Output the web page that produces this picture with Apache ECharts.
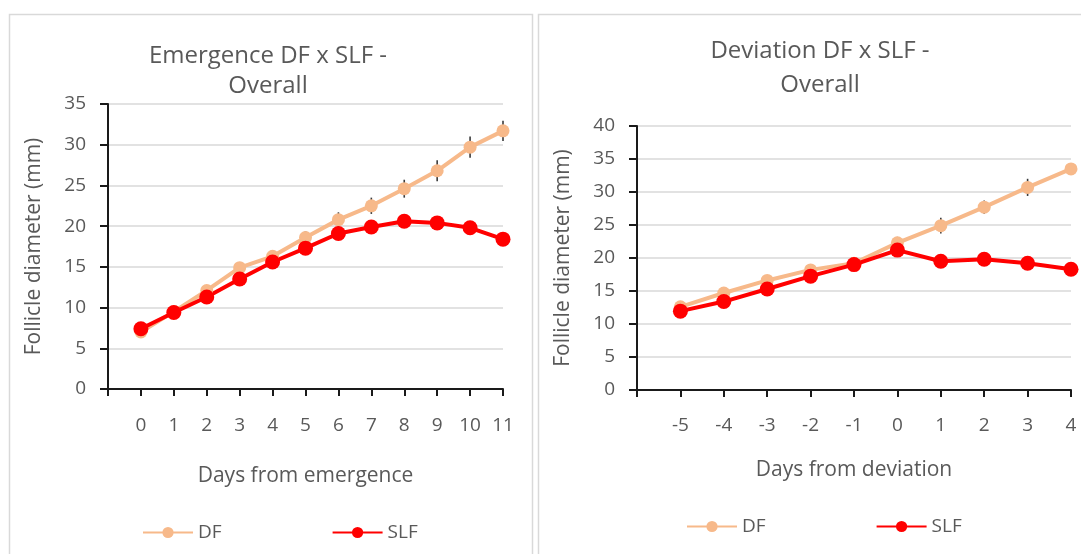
<!DOCTYPE html>
<html>
<head>
<meta charset="utf-8">
<script src="https://cdn.jsdelivr.net/npm/echarts@6/dist/echarts.min.js"></script>
<style>
html,body{margin:0;padding:0;background:#fff;}
#c{width:1081px;height:554px;}
</style>
</head>
<body>
<div id="c"></div>
<script>
// ---- data ----
const emDays = [0, 1, 2, 3, 4, 5, 6, 7, 8, 9, 10, 11];
const emDF   = [7.0, 9.5, 12.1, 14.9, 16.3, 18.6, 20.8, 22.5, 24.6, 26.8, 29.7, 31.7];
const emSLF  = [7.4, 9.4, 11.3, 13.5, 15.6, 17.3, 19.1, 19.9, 20.6, 20.4, 19.8, 18.4];
const emDFerr = [0.5, 0.6, 0.6, 0.7, 0.7, 0.8, 0.9, 1.0, 1.1, 1.3, 1.3, 1.25];

const devDays = [-5, -4, -3, -2, -1, 0, 1, 2, 3, 4];
const devDF   = [12.6, 14.7, 16.6, 18.2, 19.2, 22.3, 24.9, 27.7, 30.7, 33.5];
const devSLF  = [11.95, 13.4, 15.3, 17.25, 19.0, 21.2, 19.5, 19.8, 19.2, 18.3];
const devDFerr = [0.6, 0.6, 0.7, 0.7, 0.8, 0.9, 1.2, 1.0, 1.3, 0.9];

const titles = ['Emergence DF x SLF -\nOverall', 'Deviation DF x SLF -\nOverall'];
const xNames = ['Days from emergence', 'Days from deviation'];
const yName = 'Follicle diameter (mm)';
const seriesNames = ['DF', 'SLF'];

// ---- style ----
const FONT = 'Open Sans';
const TXT = '#595959';
const C_DF = '#F7B98A';
const C_SLF = '#FF0000';

const pairs = (xs, ys) => xs.map((x, i) => [x, ys[i]]);
const errData = (xs, ys, es) => xs.map((x, i) => [x, ys[i] - es[i], ys[i] + es[i]]);

function xAxisCfg(idx, min, max, nameGap, labelMargin) {
  return {
    type: 'value', gridIndex: idx, min: min, max: max, interval: 1,
    name: xNames[idx], nameLocation: 'middle', nameGap: nameGap,
    nameTextStyle: { color: TXT, fontFamily: FONT, fontSize: 21 },
    axisLine: { show: true, onZero: false, lineStyle: { color: '#1a1a1a', width: 2 } },
    axisTick: { show: true, length: 7, lineStyle: { color: '#1a1a1a', width: 2 } },
    axisLabel: { color: TXT, fontFamily: FONT, fontSize: 19, margin: labelMargin,
      formatter: v => (v === min ? '' : String(v)), showMinLabel: true, showMaxLabel: true },
    splitLine: { show: false }
  };
}
function yAxisCfg(idx, max) {
  return {
    type: 'value', gridIndex: idx, min: 0, max: max, interval: 5,
    name: yName, nameLocation: 'middle', nameGap: 63, nameRotate: 90,
    nameTextStyle: { color: TXT, fontFamily: FONT, fontSize: 21 },
    axisLine: { show: true, onZero: false, lineStyle: { color: '#1a1a1a', width: 2 } },
    axisTick: { show: true, length: 8, lineStyle: { color: '#1a1a1a', width: 2 } },
    axisLabel: { color: TXT, fontFamily: FONT, fontSize: 19, margin: 22 },
    splitLine: { show: true, lineStyle: { color: '#d9d9d9', width: 1.5 } }
  };
}
function lineSeries(name, idx, data, color, size) {
  return {
    type: 'line', name: name, xAxisIndex: idx, yAxisIndex: idx, data: data,
    symbol: 'circle', symbolSize: size, z: 3,
    lineStyle: { color: color, width: 4 },
    itemStyle: { color: color },
    emphasis: { disabled: true }, animation: false
  };
}
function errSeries(idx, data) {
  return {
    type: 'custom', xAxisIndex: idx, yAxisIndex: idx, data: data, z: 2, silent: true,
    animation: false,
    renderItem: (params, api) => {
      const p1 = api.coord([api.value(0), api.value(1)]);
      const p2 = api.coord([api.value(0), api.value(2)]);
      return { type: 'line', shape: { x1: p1[0], y1: p1[1], x2: p2[0], y2: p2[1] },
        style: { stroke: '#3a3a3a', lineWidth: 1.6 } };
    }
  };
}
const legendCfg = (left, top) => ({
  data: seriesNames, left: left, top: top, orient: 'horizontal',
  itemWidth: 50, itemHeight: 14, itemGap: 110, selectedMode: false,
  textStyle: { color: TXT, fontFamily: FONT, fontSize: 19 }
});

const chart = echarts.init(document.getElementById('c'), null, { renderer: 'canvas' });
chart.setOption({
  backgroundColor: '#ffffff',
  animation: false,
  graphic: [
    { type: 'rect', shape: { x: 9.5, y: 14.5, width: 523, height: 600 }, z: -10,
      style: { fill: 'none', stroke: '#d9d9d9', lineWidth: 1.5 } },
    { type: 'rect', shape: { x: 538.5, y: 14.5, width: 600, height: 600 }, z: -10,
      style: { fill: 'none', stroke: '#d9d9d9', lineWidth: 1.5 } }
  ],
  title: [
    { text: titles[0], left: 268, top: 41, textAlign: 'center', padding: 0,
      textStyle: { color: TXT, fontFamily: FONT, fontSize: 24, fontWeight: 'normal', lineHeight: 30 } },
    { text: titles[1], left: 820, top: 34, textAlign: 'center', padding: 0,
      textStyle: { color: TXT, fontFamily: FONT, fontSize: 24, fontWeight: 'normal', lineHeight: 34 } }
  ],
  legend: [ legendCfg(137, 518), legendCfg(681, 512) ],
  grid: [
    { left: 108, top: 104, width: 395, height: 285 },
    { left: 637, top: 126, width: 434, height: 264 }
  ],
  xAxis: [ xAxisCfg(0, -1, 11, 77, 27), xAxisCfg(1, -6, 4, 70, 26) ],
  yAxis: [ yAxisCfg(0, 35), yAxisCfg(1, 40) ],
  series: [
    errSeries(0, errData(emDays, emDF, emDFerr)),
    lineSeries('DF', 0, pairs(emDays, emDF), C_DF, 13),
    lineSeries('SLF', 0, pairs(emDays, emSLF), C_SLF, 15),
    errSeries(1, errData(devDays, devDF, devDFerr)),
    lineSeries('DF', 1, pairs(devDays, devDF), C_DF, 13),
    lineSeries('SLF', 1, pairs(devDays, devSLF), C_SLF, 15)
  ]
});
</script>
</body>
</html>
